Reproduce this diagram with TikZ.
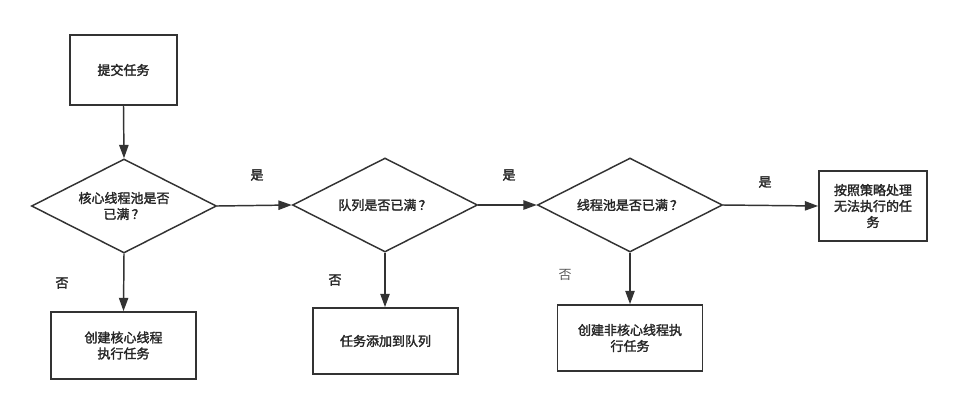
\documentclass[tikz,border=0pt]{standalone}
\usepackage{fontspec}
\newfontfamily\cjk[FakeBold=2]{Noto Sans CJK SC}
\newfontfamily\cjklight{Noto Sans CJK SC}
\usetikzlibrary{shapes.geometric,arrows.meta}
\definecolor{ln}{HTML}{333333}
\definecolor{tx}{HTML}{262626}
\begin{document}
\begin{tikzpicture}[x=0.75pt,y=-0.75pt,
  every node/.style={font=\cjk\fontsize{9.75pt}{12pt}\selectfont, text=tx},
  boxnode/.style={draw=ln, line width=1.3pt, rectangle, inner sep=0pt, align=center},
  decision/.style={draw=ln, line width=1.1pt, diamond, aspect=1.97, inner sep=0pt,
    minimum width=138.75pt, minimum height=70.5pt, align=center},
  flow/.style={draw=ln, line width=1.1pt, -{Triangle[length=10pt,width=7pt]}},
  lbl/.style={inner sep=0pt}]
\useasboundingbox (0,0) rectangle (961,404);
\fill[white] (0,0) rectangle (961,404);
\node[boxnode, minimum width=80.25pt, minimum height=52.5pt] (b1) at (123.5,70) {提交任务};
\node[decision] (d1) at (124,206) {核心线程池是否\\已满\,？};
\node[boxnode, minimum width=108.75pt, minimum height=50.25pt] (b2) at (123.5,345.5) {创建核心线程\\执行任务};
\node[decision] (d2) at (385,205) {队列是否已满\,？};
\node[boxnode, minimum width=108.75pt, minimum height=49.5pt] (b3) at (385.5,341) {任务添加到队列};
\node[decision] (d3) at (630,205) {线程池是否已满\,？};
\node[boxnode, minimum width=108.75pt, minimum height=49.5pt] (b4) at (630,338) {创建非核心线程执\\行任务};
\node[boxnode, minimum width=81pt, minimum height=52.5pt] (b5) at (873,206) {按照策略处理\\无法执行的任\\务};
\draw[flow] (b1.south) -- (d1.north);
\draw[flow] (d1.south) -- (b2.north);
\draw[flow] (d1.east) -- (d2.west);
\draw[flow] (d2.south) -- (d2.south |- b3.north);
\draw[flow] (d2.east) -- (d3.west);
\draw[flow] (d3.south) -- (d3.south |- b4.north);
\draw[flow] (d3.east) -- (b5.west);
\node[lbl] (y1) at (257,175) {是};
\node[lbl] (y2) at (509,175) {是};
\node[lbl] (y3) at (765,182) {是};
\node[lbl] (n1) at (62,283) {否};
\node[lbl] (n2) at (335,280) {否};
\node[lbl, font=\cjklight\fontsize{9.75pt}{12pt}\selectfont, text=black!65] (n3) at (565,275) {否};
\end{tikzpicture}
\end{document}
